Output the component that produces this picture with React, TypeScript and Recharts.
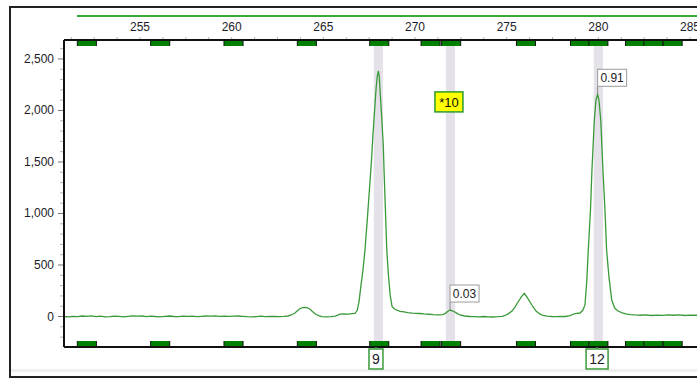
import React from 'react';
import { ComposedChart, Line, XAxis, YAxis, ReferenceArea, ReferenceLine, ReferenceDot } from 'recharts';

// electropherogram trace (size in bp, RFU)
const traceX = [
  250.85, 251.1, 251.35, 251.6, 251.85, 252.1, 252.35, 252.6, 252.85, 253.1, 253.35, 253.6, 253.85,
  254.1, 254.35, 254.6, 254.85, 255.1, 255.35, 255.6, 255.85, 256.1, 256.35, 256.6, 256.85, 257.1,
  257.35, 257.6, 257.85, 258.1, 258.35, 258.6, 258.85, 259.1, 259.35, 259.6, 259.85, 260.1, 260.35,
  260.6, 260.85, 261.1, 261.35, 261.6, 261.85, 262.1, 262.35, 262.6, 262.85, 263.07, 263.25, 263.45,
  263.6, 263.73, 263.87, 264.0, 264.13, 264.27, 264.42, 264.6, 264.78, 264.93, 265.15, 265.4, 265.65,
  265.91, 266.1, 266.35, 266.55, 266.73, 266.85, 266.95, 267.05, 267.16, 267.27, 267.4, 267.52,
  267.62, 267.7, 267.78, 267.87, 267.94, 268.0, 268.05, 268.09, 268.18, 268.27, 268.31, 268.46,
  268.55, 268.65, 268.75, 268.9, 269.18, 269.4, 269.6, 269.85, 270.05, 270.27, 270.5, 270.75, 271.0,
  271.2, 271.36, 271.5, 271.64, 271.78, 271.91, 272.07, 272.25, 272.45, 272.7, 273.0, 273.25, 273.5,
  273.75, 274.0, 274.25, 274.5, 274.75, 274.91, 275.1, 275.29, 275.45, 275.62, 275.8, 275.96, 276.1,
  276.27, 276.45, 276.6, 276.8, 276.98, 277.2, 277.45, 277.7, 277.95, 278.2, 278.45, 278.73, 279.0,
  279.15, 279.27, 279.37, 279.45, 279.57, 279.65, 279.78, 279.87, 279.96, 280.03, 280.13, 280.25,
  280.36, 280.45, 280.58, 280.73, 280.9, 281.07, 281.3, 281.5, 281.73, 282.0, 282.3, 282.6, 282.9,
  283.2, 283.5, 283.8, 284.1, 284.4, 284.7, 285.0, 285.38,
];
const traceY = [
  0, -3, 2, -2, 5, 1, 6, -1, 3, -4, -2, 4, 1,
  -3, 2, 6, 3, 5, -1, 4, 0, -3, 2, 5, 0, -2,
  3, 1, 4, -1, 2, 5, 3, 6, 2, 4, 1, 3, 5,
  2, -2, -4, -1, 3, -2, 0, 2, -1, 1, 5, 15, 34,
  58, 78, 87, 89, 84, 73, 45, 19, 6, -2, -4, -2, 4,
  24, 26, 24, 28, 31, 60, 150, 300, 450, 646, 950, 1250,
  1500, 1750, 1960, 2199, 2330, 2384, 2330, 2199, 1947, 1655, 1422, 646,
  400, 200, 95, 70, 50, 45, 38, 33, 31, 29, 25, 22, 18,
  16, 15, 18, 28, 48, 63, 53, 35, 15, 5, 0, -2, -4,
  0, -3, -5, -2, 2, 10, 28, 53, 92, 141, 190, 225, 190,
  141, 90, 53, 25, 10, 3, 0, -2, 2, 0, 8, 29, 34,
  60, 112, 350, 646, 1034, 1422, 1908, 2102, 2157, 2102, 1908, 1422,
  1034, 646, 380, 160, 80, 53, 35, 25, 19, 15, 12, 15, 10,
  14, 11, 16, 12, 15, 10, 14, 12,
];

const yTicks = [
  -200, -100, 0, 100, 200, 300, 400, 500, 600, 700, 800, 900, 1000, 1100, 1200, 1300, 1400,
  1500, 1600, 1700, 1800, 1900, 2000, 2100, 2200, 2300, 2400, 2500, 2600,
];
const topTicks = [
  251.25, 252.5, 253.75, 255, 256.25, 257.5, 258.75, 260, 261.25, 262.5, 263.75, 265, 266.25,
  267.5, 268.75, 270, 271.25, 272.5, 273.75, 275, 276.25, 277.5, 278.75, 280, 281.25, 282.5,
  283.75, 285,
];
const binCenters = [252.1, 256.1, 260.1, 264.1, 268.05, 270.85, 271.97, 276.05, 279.0, 280.0, 282.0, 283.0, 284.05];
const bandCenters = [268.0, 271.93, 280.0];
const peakTags = [
  { x: 271.91, y: 63, text: '0.03' },
  { x: 279.96, y: 2157, text: '0.91' },
];
const alleleLabels = [
  { x: 267.87, text: '9' },
  { x: 279.93, text: '12' },
];
const markerLabel = { x: 271.85, y: 2083, text: '*10' };

const data = traceX.map((x, i) => ({ x, y: traceY[i] }));

const X_DOMAIN = [250.854, 285.38];
const Y_DOMAIN = [-296, 2684];
const BIN_HALF = 0.52;
const BAND_HALF = 0.25;
const FONT = '"Liberation Sans", Arial, sans-serif';
const TEXT = '#1c1c28';
const TRACE = '#3a9a3a';

const YTick = (props: any) => {
  const { x, y, payload } = props;
  const v = payload.value;
  const major = v % 500 === 0;
  return (
    <g>
      <line x1={x - (major ? 6 : 4)} x2={x - 1} y1={y} y2={y} stroke={major ? '#777' : '#b5b5b5'} />
      {major && v >= 0 && (
        <text x={x - 10} y={y + 4} textAnchor="end" fontSize={12} fontFamily={FONT} fill={TEXT}>
          {v.toLocaleString('en-US')}
        </text>
      )}
    </g>
  );
};

const TopTick = (props: any) => {
  const { x, y, payload } = props;
  const v = payload.value;
  return (
    <g>
      <line x1={x} x2={x} y1={y - 1} y2={y - 3} stroke="#b5b5b5" />
      {v % 5 === 0 && (
        <text x={x} y={y - 9.5} textAnchor="middle" fontSize={12} fontFamily={FONT} fill={TEXT}>
          {v}
        </text>
      )}
    </g>
  );
};

const BinShape = (p: any) => (
  <g>
    <rect x={p.x} y={p.y} width={p.width} height={p.height} fill="#008000" />
    <line x1={p.x} x2={p.x} y1={p.y} y2={p.y + p.height} stroke="#111" />
    <line x1={p.x + p.width} x2={p.x + p.width} y1={p.y} y2={p.y + p.height} stroke="#111" />
  </g>
);

const PeakTag = ({ cx, cy, text }: any) => (
  <g>
    <line x1={cx} x2={cx} y1={cy} y2={cy - 8} stroke="#8a8a8a" />
    <rect x={cx} y={cy - 25} width={29} height={17} fill="#fff" stroke="#9a9a9a" />
    <text x={cx + 14.5} y={cy - 12.5} textAnchor="middle" fontSize={12} fontFamily={FONT} fill={TEXT}>
      {text}
    </text>
  </g>
);

const MarkerTag = ({ cx, cy, text }: any) => (
  <g>
    <rect x={cx - 14} y={cy - 10} width={28} height={20} fill="#ffff00" stroke="#2f9a2f" strokeWidth={1.5} />
    <text x={cx} y={cy + 5} textAnchor="middle" fontSize={13} fontFamily={FONT} fill="#111">
      {text}
    </text>
  </g>
);

const AlleleTag = ({ cx, cy, text }: any) => {
  const w = text.length > 1 ? 22 : 14;
  return (
    <g>
      <line x1={cx} x2={cx} y1={cy} y2={cy + 2} stroke={TRACE} strokeWidth={1.5} />
      <rect x={cx - w / 2} y={cy + 2} width={w} height={20} fill="#fff" stroke={TRACE} strokeWidth={1.5} />
      <text x={cx} y={cy + 17} textAnchor="middle" fontSize={14} fontFamily={FONT} fill={TEXT}>
        {text}
      </text>
    </g>
  );
};

export default function App() {
  return (
    <div style={{ position: 'absolute', left: 0, top: 0, width: 697, height: 379, overflow: 'hidden', background: '#fff' }}>
      <div style={{ position: 'absolute', left: 9, top: 6, width: 720, height: 368, border: '2px solid #222', borderRight: 'none' }} />
      <div style={{ position: 'absolute', left: 11, top: 369, width: 700, height: 3, background: '#efefef' }} />
      <div style={{ position: 'absolute', left: 77, top: 15, width: 640, height: 2, background: '#38a838' }} />
      <div style={{ position: 'absolute', left: 0, top: 0 }}>
        <ComposedChart width={697} height={379} data={data} margin={{ top: 0, right: 0, bottom: 32, left: 0 }}>
          <XAxis
            dataKey="x"
            type="number"
            orientation="top"
            domain={X_DOMAIN}
            allowDataOverflow
            ticks={topTicks}
            interval={0}
            height={40}
            tickSize={0}
            tickMargin={0}
            tick={<TopTick />}
            axisLine={{ stroke: '#111', strokeWidth: 2 }}
          />
          <YAxis
            type="number"
            domain={Y_DOMAIN}
            allowDataOverflow
            ticks={yTicks}
            interval={0}
            width={64}
            tickSize={0}
            tickMargin={0}
            tick={<YTick />}
            axisLine={{ stroke: '#111', strokeWidth: 2 }}
          />
          {bandCenters.map((c) => (
            <ReferenceArea
              key={'band' + c}
              x1={c - BAND_HALF}
              x2={c + BAND_HALF}
              y1={-238}
              y2={2626}
              fill="#e4e1e8"
              fillOpacity={1}
              stroke="none"
            />
          ))}
          {binCenters.map((c) => (
            <ReferenceArea key={'top' + c} x1={c - BIN_HALF} x2={c + BIN_HALF} y1={2626} y2={2684} shape={BinShape} />
          ))}
          {binCenters.map((c) => (
            <ReferenceArea key={'bot' + c} x1={c - BIN_HALF} x2={c + BIN_HALF} y1={-296} y2={-238} shape={BinShape} />
          ))}
          <ReferenceLine y={-296} stroke="#111" strokeWidth={2} ifOverflow="visible" />
          <Line
            dataKey="y"
            type="linear"
            stroke={TRACE}
            strokeWidth={1.3}
            dot={false}
            activeDot={false}
            isAnimationActive={false}
          />
          {peakTags.map((t) => (
            <ReferenceDot
              key={t.text}
              x={t.x}
              y={t.y}
              r={0}
              ifOverflow="visible"
              shape={(p: any) => <PeakTag cx={p.cx} cy={p.cy} text={t.text} />}
            />
          ))}
          <ReferenceDot
            x={markerLabel.x}
            y={markerLabel.y}
            r={0}
            ifOverflow="visible"
            shape={(p: any) => <MarkerTag cx={p.cx} cy={p.cy} text={markerLabel.text} />}
          />
          {alleleLabels.map((t) => (
            <ReferenceDot
              key={t.text}
              x={t.x}
              y={-296}
              r={0}
              ifOverflow="visible"
              shape={(p: any) => <AlleleTag cx={p.cx} cy={p.cy} text={t.text} />}
            />
          ))}
        </ComposedChart>
      </div>
    </div>
  );
}
